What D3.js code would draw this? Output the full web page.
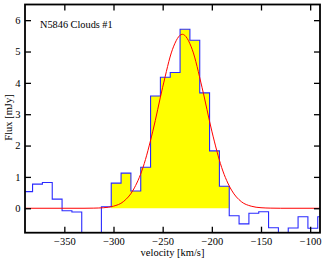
<!DOCTYPE html>
<html>
<head>
<meta charset="utf-8">
<script src="https://cdn.jsdelivr.net/npm/d3@7"></script>
<style>
  body { margin: 0; background: #fff; }
</style>
</head>
<body>
<svg id="chart" width="327" height="263"></svg>
<script>
// spectrum channels (left edge of each 10 km/s bin) and flux in mJy
var binEdges = [-392.3, -382.3, -372.3, -362.3, -352.3, -342.3, -332.3, -322.3, -312.3, -302.3,
  -292.3, -282.3, -272.3, -262.3, -252.3, -242.3, -232.3, -222.3, -212.3, -202.3,
  -192.3, -182.3, -172.3, -162.3, -152.3, -142.3, -132.3, -122.3, -112.3, -102.3, -92.3];
var binWidth = 10;
var flux = [0.53, 0.77, 0.82, 0.29, -0.08, -0.12, -1.5, -1.3, 0.05, 0.80,
  1.12, 0.55, 1.31, 3.58, 4.18, 4.33, 5.71, 5.36, 3.68, 1.83,
  0.70, -0.24, -0.50, -0.16, -0.11, -0.62, -1.2, -0.63, -0.27, -0.64, -0.27];
// channels that are shaded yellow (the line window)
var fillFrom = -302.3, fillTo = -182.3;

// gaussian fit curve
var fitVel = [-390, -330, -320, -310, -300, -290, -280, -270, -260, -250, -240, -230,
  -220, -210, -200, -190, -180, -170, -160, -150, -140, -130, -90];
var fitFlux = [0, 0, 0.004, 0.017, 0.066, 0.21, 0.58, 1.30, 2.46, 3.86, 5.07, 5.55,
  5.07, 3.86, 2.46, 1.30, 0.58, 0.21, 0.066, 0.017, 0.004, 0, 0];

var xTicks = [-350, -300, -250, -200, -150, -100];
var yTicks = [0, 1, 2, 3, 4, 5, 6];
var title = "N5846 Clouds #1";

var serif = "'Liberation Serif', 'Times New Roman', 'DejaVu Serif', serif";
var margin = {left: 25, top: 4.5, right: 7, bottom: 30.3};
var width = 327, height = 263;
var svg = d3.select("#chart");

var x = d3.scaleLinear().domain([-390, -90]).range([margin.left, width - margin.right]);
var y = d3.scaleLinear().domain([-0.78, 6.5]).range([height - margin.bottom, margin.top]);

svg.append("defs").append("clipPath").attr("id", "clip")
  .append("rect")
  .attr("x", x(-390)).attr("y", y(6.5))
  .attr("width", x(-90) - x(-390)).attr("height", y(-0.78) - y(6.5));

var plot = svg.append("g").attr("clip-path", "url(#clip)");

// step points
var steps = [];
binEdges.forEach(function(e, i) {
  steps.push([e, flux[i]]);
  steps.push([e + binWidth, flux[i]]);
});

// yellow shaded area
var filled = steps.filter(function(p) { return p[0] >= fillFrom - 0.01 && p[0] <= fillTo + 0.01; });
plot.append("path")
  .datum(filled)
  .attr("fill", "#ffff00")
  .attr("stroke", "none")
  .attr("d", d3.area().x(function(d) { return x(d[0]); }).y0(y(0)).y1(function(d) { return y(d[1]); }));

// histogram
plot.append("path")
  .datum(steps)
  .attr("fill", "none")
  .attr("stroke", "#2a2aff")
  .attr("stroke-width", 1.1)
  .attr("d", d3.line().x(function(d) { return x(d[0]); }).y(function(d) { return y(d[1]); }));

// fit
plot.append("path")
  .datum(d3.zip(fitVel, fitFlux))
  .attr("fill", "none")
  .attr("stroke", "#ff0000")
  .attr("stroke-width", 1)
  .attr("d", d3.line().curve(d3.curveMonotoneX).x(function(d) { return x(d[0]); }).y(function(d) { return y(d[1]); }));

// axes, ticks inward
var tickLen = 6;
var axisBottom = d3.axisBottom(x).tickValues(xTicks).tickSizeInner(-tickLen).tickSizeOuter(0)
  .tickPadding(5).tickFormat(function(d) { return d3.format("d")(d).replace("-", "\u2212"); });
var axisTop = d3.axisTop(x).tickValues(xTicks).tickSizeInner(-tickLen).tickSizeOuter(0).tickFormat("");
var axisLeft = d3.axisLeft(y).tickValues(yTicks).tickSizeInner(-tickLen).tickSizeOuter(0)
  .tickPadding(4.5);
var axisRight = d3.axisRight(y).tickValues(yTicks).tickSizeInner(-tickLen).tickSizeOuter(0).tickFormat("");

svg.append("g").attr("transform", "translate(0," + y(-0.78) + ")").call(axisBottom);
svg.append("g").attr("transform", "translate(0," + y(6.5) + ")").call(axisTop);
svg.append("g").attr("transform", "translate(" + x(-390) + ",0)").call(axisLeft);
svg.append("g").attr("transform", "translate(" + x(-90) + ",0)").call(axisRight);

svg.selectAll(".domain").remove();
svg.selectAll(".tick line").attr("stroke", "#000").attr("stroke-width", 1.3);
svg.selectAll(".tick text")
  .attr("font-size", null)
  .style("font-size", "10.5px")
  .attr("fill", "#000");

// frame
svg.append("rect")
  .attr("x", x(-390)).attr("y", y(6.5))
  .attr("width", x(-90) - x(-390)).attr("height", y(-0.78) - y(6.5))
  .attr("fill", "none").attr("stroke", "#000").attr("stroke-width", 1.8);

// labels
svg.append("text")
  .attr("x", 40).attr("y", 27.5)
  .style("font-size", "10.3px")
  .text(title);

svg.append("text")
  .attr("x", (x(-390) + x(-90)) / 2).attr("y", 256)
  .attr("text-anchor", "middle")
  .style("font-size", "10.5px")
  .text("velocity [km/s]");

svg.append("text")
  .attr("transform", "translate(12," + 117.5 + ") rotate(-90)")
  .attr("text-anchor", "middle")
  .style("font-size", "10.5px")
  .text("Flux [mJy]");

// serif font everywhere, like the reference
svg.selectAll("g").attr("font-family", null);
svg.selectAll("text").style("font-family", serif).attr("fill", "#000");
</script>
</body>
</html>
